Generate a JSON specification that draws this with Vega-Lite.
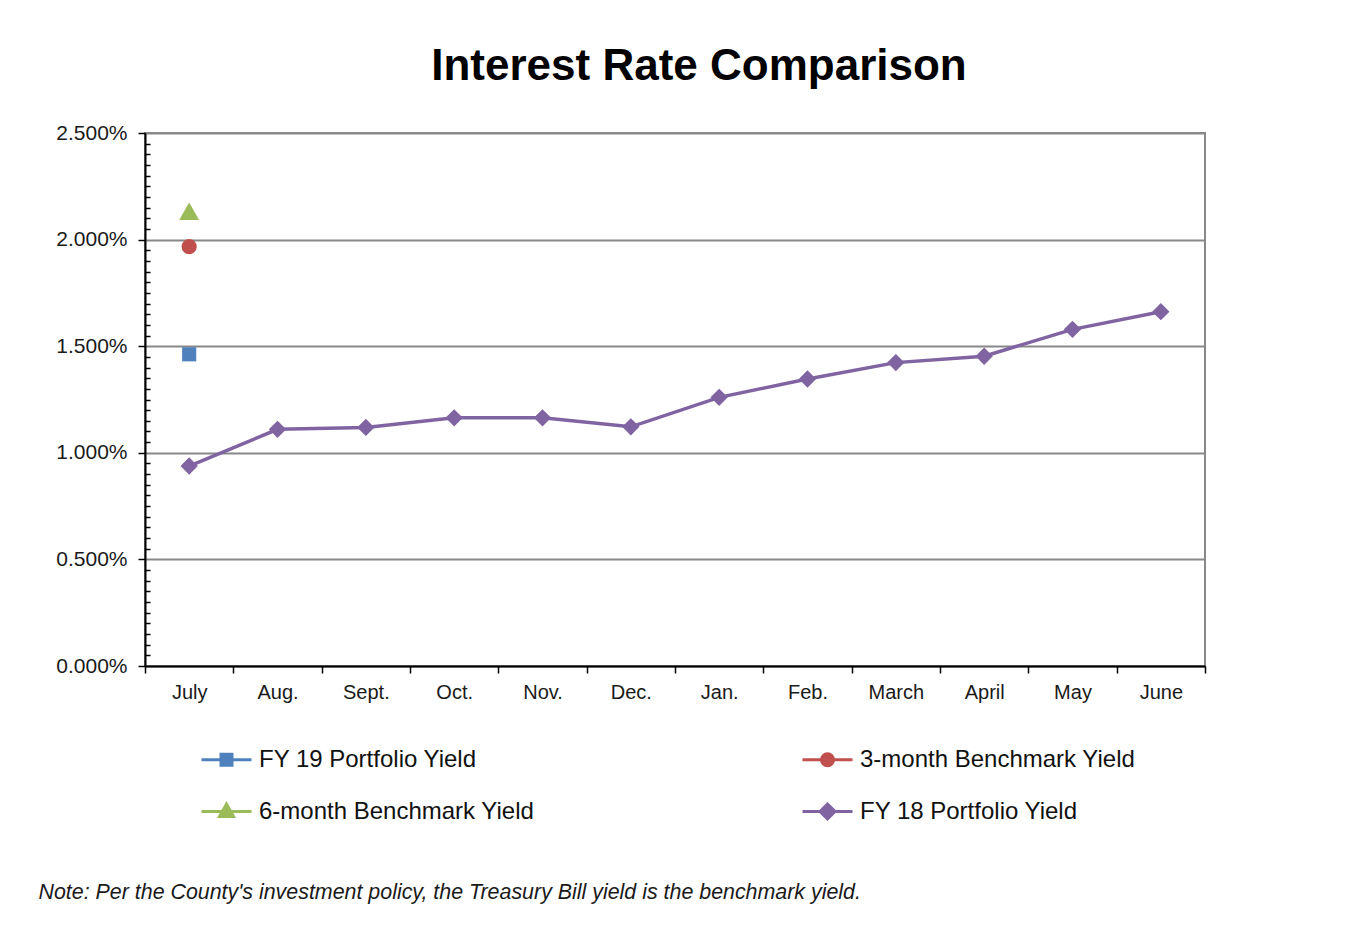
{
  "$schema": "https://vega.github.io/schema/vega-lite/v6.json",
  "width": 1060,
  "height": 533,
  "autosize": {"type": "none"},
  "padding": {"left": 145, "top": 133, "right": 159, "bottom": 274},
  "background": "white",
  "config": {
    "view": {"stroke": "#888888", "strokeWidth": 2},
    "font": "Liberation Sans"
  },
  "title": {
    "text": "Interest Rate Comparison",
    "font": "Liberation Sans",
    "fontSize": 44,
    "fontWeight": "bold",
    "color": "#000000",
    "anchor": "middle",
    "dx": 24,
    "offset": -2,
    "baseline": "alphabetic"
  },
  "data": {
    "values": [
      {"month": "July", "series": "FY 18 Portfolio Yield", "yield": 0.00938},
      {"month": "Aug.", "series": "FY 18 Portfolio Yield", "yield": 0.01110},
      {"month": "Sept.", "series": "FY 18 Portfolio Yield", "yield": 0.01119},
      {"month": "Oct.", "series": "FY 18 Portfolio Yield", "yield": 0.01164},
      {"month": "Nov.", "series": "FY 18 Portfolio Yield", "yield": 0.01164},
      {"month": "Dec.", "series": "FY 18 Portfolio Yield", "yield": 0.01122},
      {"month": "Jan.", "series": "FY 18 Portfolio Yield", "yield": 0.01260},
      {"month": "Feb.", "series": "FY 18 Portfolio Yield", "yield": 0.01346},
      {"month": "March", "series": "FY 18 Portfolio Yield", "yield": 0.01423},
      {"month": "April", "series": "FY 18 Portfolio Yield", "yield": 0.01453},
      {"month": "May", "series": "FY 18 Portfolio Yield", "yield": 0.01579},
      {"month": "June", "series": "FY 18 Portfolio Yield", "yield": 0.01662},
      {"month": "July", "series": "FY 19 Portfolio Yield", "yield": 0.01462},
      {"month": "July", "series": "3-month Benchmark Yield", "yield": 0.01967},
      {"month": "July", "series": "6-month  Benchmark Yield", "yield": 0.02133}
    ]
  },
  "encoding": {
    "x": {
      "field": "month",
      "type": "nominal",
      "sort": ["July", "Aug.", "Sept.", "Oct.", "Nov.", "Dec.", "Jan.", "Feb.", "March", "April", "May", "June"],
      "scale": {"paddingInner": 0, "paddingOuter": 0},
      "axis": {
        "tickBand": "extent",
        "ticks": true,
        "tickSize": 7,
        "tickColor": "#000000",
        "tickWidth": 1.5,
        "domainColor": "#000000",
        "domainWidth": 2,
        "grid": false,
        "labelAngle": 0,
        "labelFont": "Liberation Sans",
        "labelFontSize": 20,
        "labelColor": "#1a1a1a",
        "labelPadding": 9,
        "title": "Note: Per the County's investment policy, the Treasury Bill yield is the benchmark yield.",
        "titleFont": "Liberation Sans",
        "titleFontSize": 21.4,
        "titleFontStyle": "italic",
        "titleFontWeight": "normal",
        "titleColor": "#1a1a1a",
        "titleAnchor": "start",
        "titleAlign": "left",
        "titleBaseline": "alphabetic",
        "titleX": -107,
        "titleY": 232
      }
    },
    "y": {
      "field": "yield",
      "type": "quantitative",
      "scale": {"domain": [0, 0.025], "nice": false},
      "axis": {
        "values": [0, 0.0005, 0.001, 0.0015, 0.002, 0.0025, 0.003, 0.0035, 0.004, 0.0045, 0.005, 0.0055, 0.006, 0.0065, 0.007, 0.0075, 0.008, 0.0085, 0.009, 0.0095, 0.01, 0.0105, 0.011, 0.0115, 0.012, 0.0125, 0.013, 0.0135, 0.014, 0.0145, 0.015, 0.0155, 0.016, 0.0165, 0.017, 0.0175, 0.018, 0.0185, 0.019, 0.0195, 0.02, 0.0205, 0.021, 0.0215, 0.022, 0.0225, 0.023, 0.0235, 0.024, 0.0245, 0.025],
        "format": ".3%",
        "labelExpr": "abs(datum.value * 200 - round(datum.value * 200)) < 0.01 ? datum.label : ''",
        "grid": true,
        "gridColor": "#888888",
        "gridWidth": 2,
        "gridOpacity": {"condition": {"test": "abs(datum.value * 200 - round(datum.value * 200)) < 0.01", "value": 1}, "value": 0},
        "tickSize": {"condition": {"test": "abs(datum.value * 200 - round(datum.value * 200)) < 0.01", "value": 7}, "value": -5},
        "tickColor": "#000000",
        "tickWidth": 1.5,
        "domainColor": "#000000",
        "domainWidth": 2,
        "labelFont": "Liberation Sans",
        "labelFontSize": 21,
        "labelColor": "#1a1a1a",
        "labelPadding": 11,
        "title": null
      }
    }
  },
  "layer": [
    {
      "transform": [{"filter": "datum.series === 'FY 18 Portfolio Yield'"}],
      "mark": {"type": "line", "strokeWidth": 3.5, "color": "#8064A2"}
    },
    {
      "mark": {"type": "point", "filled": true, "opacity": 1},
      "encoding": {
        "color": {
          "field": "series",
          "type": "nominal",
          "scale": {
            "domain": ["FY 19 Portfolio Yield", "6-month  Benchmark Yield", "3-month Benchmark Yield", "FY 18 Portfolio Yield"],
            "range": ["#4F81BD", "#9BBB59", "#C0504D", "#8064A2"]
          },
          "legend": null
        },
        "shape": {
          "field": "series",
          "type": "nominal",
          "scale": {
            "domain": ["FY 19 Portfolio Yield", "6-month  Benchmark Yield", "3-month Benchmark Yield", "FY 18 Portfolio Yield"],
            "range": ["square", "triangle-up", "circle", "diamond"]
          },
          "legend": null
        },
        "size": {
          "field": "series",
          "type": "nominal",
          "scale": {
            "type": "ordinal",
            "domain": ["FY 19 Portfolio Yield", "6-month  Benchmark Yield", "3-month Benchmark Yield", "FY 18 Portfolio Yield"],
            "range": [200, 400, 230, 300]
          },
          "legend": null
        }
      }
    },
    {
      "mark": {"type": "point", "filled": true, "opacity": 0, "size": 200},
      "encoding": {
        "fill": {
          "field": "series",
          "type": "nominal",
          "scale": {
            "domain": ["FY 19 Portfolio Yield", "6-month  Benchmark Yield", "3-month Benchmark Yield", "FY 18 Portfolio Yield"],
            "range": ["#4F81BD", "#9BBB59", "#C0504D", "#8064A2"]
          }
        },
        "stroke": {
          "field": "series",
          "type": "nominal",
          "scale": {
            "domain": ["FY 19 Portfolio Yield", "6-month  Benchmark Yield", "3-month Benchmark Yield", "FY 18 Portfolio Yield"],
            "range": ["#4F81BD", "#9BBB59", "#C0504D", "#8064A2"]
          }
        },
        "shape": {
          "field": "series",
          "type": "nominal",
          "scale": {
            "domain": ["FY 19 Portfolio Yield", "6-month  Benchmark Yield", "3-month Benchmark Yield", "FY 18 Portfolio Yield"],
            "range": [
              "M-1,0H1M-0.22,-0.22H0.22V0.22H-0.22Z",
              "M-1,0H1M0,-0.3L0.28,0.2H-0.28Z",
              "M-1,0H1M0.24,0A0.24,0.24,0,1,1,-0.24,0A0.24,0.24,0,1,1,0.24,0Z",
              "M-1,0H1M0,-0.3L0.3,0L0,0.3L-0.3,0Z"
            ]
          },
          "legend": {
            "title": null,
            "orient": "none",
            "legendX": 55,
            "legendY": 600,
            "columns": 2,
            "columnPadding": 255,
            "rowPadding": 13,
            "symbolSize": 2500,
            "symbolStrokeWidth": 3,
            "symbolOpacity": 1,
            "labelFont": "Liberation Sans",
            "labelFontSize": 24,
            "labelColor": "#111111",
            "labelOffset": 6,
            "labelLimit": 0
          }
        }
      }
    }
  ],
  "resolve": {"scale": {"shape": "independent", "fill": "independent", "stroke": "independent"}}
}
